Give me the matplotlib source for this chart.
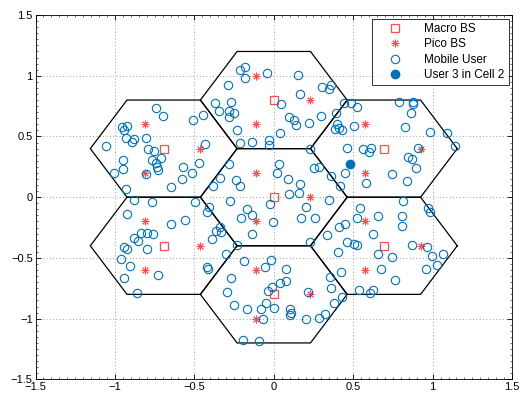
import numpy as np
import matplotlib
matplotlib.use("Agg")
import matplotlib.pyplot as plt
from matplotlib.ticker import MultipleLocator

plt.rcParams['font.family'] = ['Liberation Sans', 'DejaVu Sans']

# Macro base stations (cell centres)
macro_x = [0.0, 0.0, 0.0, -0.693, -0.693, 0.693, 0.693]
macro_y = [0.0, 0.8, -0.8, 0.4, -0.4, 0.4, -0.4]
cell_radius = 0.462

# Pico base stations (three per cell)
pico_x = [0.231, -0.115, -0.115,
          0.231, -0.115, -0.115,
          0.231, -0.115, -0.115,
          -0.462, -0.808, -0.808,
          -0.462, -0.808, -0.808,
          0.924, 0.577, 0.577,
          0.924, 0.577, 0.577]
pico_y = [0.0, 0.2, -0.2,
          0.8, 1.0, 0.6,
          -0.8, -0.6, -1.0,
          0.4, 0.6, 0.2,
          -0.4, -0.2, -0.6,
          0.4, 0.6, 0.2,
          -0.4, -0.2, -0.6]

# Mobile users
user_x = [-0.744, -0.697, -0.925, -0.955, -0.944, -0.929, -0.877, -0.894, -0.807, -1.055,
          -0.508, -0.445, -0.436, -0.182, -0.214, -0.184, -0.042, 0.153, -0.289, 0.304,
          0.346, 0.359, 0.162, -0.373, -0.344, -0.272, -0.283, -0.252, -0.283, 0.046,
          0.094, 0.128, 0.143, 0.222, 0.300, 0.390, 0.384, -0.233, 0.040, -0.030,
          -0.210, -0.137, -0.030, 0.227, 0.445, 0.486, 0.527, 0.789, 0.877, 0.879,
          0.864, 0.398, 0.411, 0.432, 0.503, 0.826, 0.986, 1.089, 1.140, -0.789,
          -0.751, -0.948, -0.766, -0.713, -0.741, -0.734, -0.730, -0.952, -1.007, -0.807,
          -0.573, -0.468, -0.514, -0.577, -0.646, -0.933, -0.877, -0.766, -0.493, -0.405,
          -0.422, -0.925, -0.558, -0.646, -0.839, -0.801, -0.760, -0.856, -0.877, -0.390,
          0.033, 0.023, 0.090, -0.283, 0.252, 0.285, 0.359, -0.340, -0.239, -0.214,
          -0.382, 0.168, 0.093, 0.157, -0.277, -0.025, 0.201, 0.348, -0.166, -0.140,
          -0.208, -0.004, 0.170, 0.260, -0.340, -0.361, -0.334, -0.134, 0.227, 0.335,
          0.459, 0.564, 0.600, 0.612, 0.906, 0.843, 0.873, 0.895, 0.449, 0.747,
          0.841, 0.581, 0.417, 0.812, 0.543, 0.971, 0.982, 0.522, 0.654, 0.810,
          0.807, 0.449, 0.411, 0.623, 0.459, 0.508, 0.522, 0.868, -0.940, -0.921,
          -0.797, -0.961, -0.908, -0.946, -0.726, -0.864, -0.422, -0.417, -0.302, -0.189,
          -0.057, -0.019, 0.080, -0.272, 0.076, 0.038, -0.294, -0.014, -0.036, 0.216,
          0.352, 0.363, -0.252, -0.166, -0.082, -0.046, 0.002, -0.071, 0.101, 0.111,
          0.101, 0.201, 0.285, 0.323, 0.381, -0.193, -0.096, -0.231, 0.403, 0.654,
          0.743, 0.963, 0.994, 1.068, 1.028, 0.961, 0.675, 0.763, 0.424, 0.537,
          0.606, 0.623, 0.428]
user_y = [0.738, 0.672, 0.590, 0.577, 0.552, 0.486, 0.478, 0.453, 0.486, 0.418,
          0.634, 0.675, 0.442, 1.076, 1.046, 0.980, 1.021, 1.010, 0.923, 0.909,
          0.890, 0.923, 0.848, 0.779, 0.713, 0.785, 0.708, 0.697, 0.664, 0.769,
          0.664, 0.637, 0.596, 0.610, 0.670, 0.692, 0.565, 0.552, 0.532, 0.472,
          0.450, 0.453, 0.427, 0.398, 0.774, 0.774, 0.744, 0.787, 0.787, 0.766,
          0.694, 0.601, 0.573, 0.554, 0.587, 0.579, 0.540, 0.527, 0.420, 0.395,
          0.384, 0.310, 0.310, 0.326, 0.280, 0.252, 0.225, 0.236, 0.200, 0.189,
          0.252, 0.280, 0.198, 0.151, 0.087, 0.066, -0.025, -0.041, -0.041, -0.077,
          -0.124, -0.138, -0.189, -0.220, -0.292, -0.292, -0.302, -0.360, -0.338, -0.346,
          0.274, 0.198, 0.151, 0.274, 0.244, 0.252, 0.178, 0.161, 0.143, 0.096,
          0.096, 0.107, 0.025, 0.038, -0.030, -0.055, -0.080, -0.022, -0.096, -0.146,
          -0.168, -0.206, -0.168, -0.168, -0.242, -0.278, -0.283, -0.302, -0.366, -0.311,
          0.409, 0.395, 0.376, 0.404, 0.404, 0.334, 0.313, 0.244, 0.198, 0.189,
          0.134, 0.115, 0.093, -0.030, -0.086, -0.091, -0.119, -0.168, -0.157, -0.152,
          -0.234, -0.222, -0.242, -0.300, -0.371, -0.382, -0.397, -0.397, -0.412, -0.426,
          -0.428, -0.511, -0.566, -0.662, -0.640, -0.791, -0.572, -0.591, -0.467, -0.522,
          -0.572, -0.514, -0.591, -0.667, -0.689, -0.703, -0.778, -0.741, -0.769, -0.778,
          -0.659, -0.750, -0.887, -0.920, -0.923, -0.868, -0.909, -1.002, -0.923, -0.951,
          -0.970, -1.002, -0.992, -0.964, -0.873, -1.175, -1.184, -0.397, -0.448, -0.467,
          -0.489, -0.407, -0.481, -0.467, -0.558, -0.593, -0.591, -0.681, -0.613, -0.764,
          -0.786, -0.764, -0.819]

# Highlighted user
sel_x = [0.480]
sel_y = [0.272]

blue = '#0072BD'
red = '#FF4D4D'

fig = plt.figure(figsize=(5.26, 3.96), dpi=100)
ax = fig.add_axes([0.0675, 0.042, 0.906, 0.920])

# Hexagonal cell outlines
ang = np.deg2rad(np.arange(0, 361, 60))
for cx, cy in zip(macro_x, macro_y):
    ax.plot(cx + cell_radius * np.cos(ang), cy + cell_radius * np.sin(ang),
            color='black', lw=0.9, zorder=2)

ax.plot(macro_x, macro_y, ls='none', marker='s', ms=5.5, mfc='none', mec=red,
        mew=0.9, label='Macro BS', zorder=3)
ax.plot(pico_x, pico_y, ls='none', marker=(8, 2, 0), ms=5.5, mec=red, mfc=red,
        mew=0.7, label='Pico BS', zorder=3)
ax.plot(user_x, user_y, ls='none', marker='o', ms=6, mfc='none', mec=blue,
        mew=0.8, label='Mobile User', zorder=4)
ax.plot(sel_x, sel_y, ls='none', marker='o', ms=6, mfc=blue, mec=blue,
        label='User 3 in Cell 2', zorder=5)

ax.set_xlim(-1.5, 1.5)
ax.set_ylim(-1.5, 1.5)
ax.xaxis.set_major_locator(MultipleLocator(0.5))
ax.yaxis.set_major_locator(MultipleLocator(0.5))
ax.xaxis.set_minor_locator(MultipleLocator(0.05))
ax.yaxis.set_minor_locator(MultipleLocator(0.05))
fmt = lambda v, p: ('%g' % v).replace('-', '\u2212')
ax.xaxis.set_major_formatter(plt.FuncFormatter(fmt))
ax.yaxis.set_major_formatter(plt.FuncFormatter(fmt))
ax.tick_params(which='both', direction='in', top=True, right=True, labelsize=8,
               width=0.6, pad=2)
ax.tick_params(which='major', length=3.5)
ax.tick_params(which='minor', length=1.5, width=0.4)
ax.grid(True, which='major', color='0.5', ls=(0, (1, 3)), lw=0.6)
for s in ax.spines.values():
    s.set_linewidth(0.6)

leg = ax.legend(loc='upper right', fontsize=8.5, frameon=True, fancybox=False,
                edgecolor='black', borderaxespad=0.3, handletextpad=0.9,
                labelspacing=0.3, borderpad=0.35, handlelength=3.2)
leg.get_frame().set_linewidth(0.7)

fig.savefig('out.png', dpi=100)
